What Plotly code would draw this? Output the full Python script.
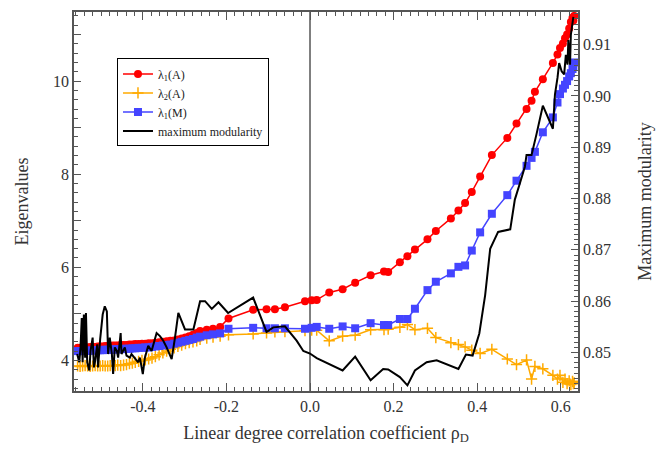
import plotly.graph_objects as go

# Degree correlation coefficient of each network (shared by the eigenvalue series)
rho = [
    -0.556, -0.550, -0.544, -0.538, -0.532, -0.526, -0.520, -0.514, -0.508, -0.502,
    -0.496, -0.490, -0.484, -0.478, -0.472, -0.466, -0.460, -0.453, -0.446, -0.439,
    -0.432, -0.425, -0.418, -0.410, -0.402, -0.394, -0.386, -0.378, -0.370, -0.361,
    -0.352, -0.343, -0.334, -0.325, -0.316, -0.307, -0.298, -0.289, -0.280, -0.271,
    -0.263, -0.247, -0.232, -0.215, -0.195, -0.136, -0.104, -0.084, -0.060, -0.012,
    0.004, 0.016, 0.046, 0.078, 0.108, 0.145, 0.177, 0.187, 0.215, 0.233,
    0.251, 0.281, 0.301, 0.337, 0.355, 0.371, 0.387, 0.407, 0.435, 0.472,
    0.494, 0.518, 0.530, 0.538, 0.557, 0.581, 0.592, 0.598, 0.605, 0.610,
    0.615, 0.620, 0.624, 0.628, 0.630, 0.632,
]

# Largest eigenvalue of the adjacency matrix
lam1_A = [
    4.27, 4.27, 4.28, 4.28, 4.28, 4.29, 4.29, 4.29, 4.30, 4.30,
    4.30, 4.31, 4.31, 4.31, 4.32, 4.32, 4.32, 4.33, 4.33, 4.33,
    4.34, 4.34, 4.35, 4.35, 4.36, 4.36, 4.37, 4.37, 4.38, 4.39,
    4.40, 4.41, 4.42, 4.43, 4.45, 4.47, 4.49, 4.52, 4.55, 4.59,
    4.63, 4.66, 4.68, 4.72, 4.90, 5.09, 5.10, 5.10, 5.14, 5.27,
    5.29, 5.30, 5.46, 5.53, 5.67, 5.83, 5.91, 5.90, 6.11, 6.24,
    6.38, 6.60, 6.78, 7.05, 7.22, 7.38, 7.62, 7.95, 8.41, 8.78,
    9.09, 9.40, 9.58, 9.77, 10.04, 10.39, 10.57, 10.71, 10.81, 10.92,
    11.00, 11.13, 11.27, 11.36, 11.30, 11.40,
]

# Second largest eigenvalue of the adjacency matrix
lam2_A = [
    3.88, 3.87, 3.88, 3.89, 3.88, 3.87, 3.88, 3.89, 3.88, 3.88,
    3.89, 3.88, 3.88, 3.89, 3.88, 3.89, 3.90, 3.89, 3.90, 3.91,
    3.93, 3.94, 3.96, 3.98, 4.00, 4.01, 4.03, 4.05, 4.08, 4.12,
    4.16, 4.20, 4.24, 4.27, 4.30, 4.33, 4.36, 4.38, 4.40, 4.42,
    4.45, 4.48, 4.50, 4.52, 4.55, 4.57, 4.59, 4.61, 4.62, 4.64,
    4.65, 4.65, 4.42, 4.52, 4.54, 4.66, 4.66, 4.67, 4.71, 4.77,
    4.66, 4.69, 4.49, 4.38, 4.34, 4.29, 4.22, 4.15, 4.24, 4.03,
    3.91, 4.01, 3.60, 3.87, 3.82, 3.68, 3.60, 3.68, 3.53, 3.60,
    3.50, 3.56, 3.48, 3.55, 3.50, 3.52,
]

# Largest eigenvalue of the modularity matrix
lam1_M = [
    4.20, 4.20, 4.20, 4.21, 4.21, 4.21, 4.21, 4.22, 4.22, 4.22,
    4.22, 4.23, 4.23, 4.23, 4.23, 4.24, 4.24, 4.24, 4.25, 4.25,
    4.25, 4.26, 4.26, 4.27, 4.27, 4.28, 4.28, 4.29, 4.30, 4.31,
    4.32, 4.33, 4.34, 4.36, 4.38, 4.40, 4.42, 4.44, 4.46, 4.49,
    4.51, 4.54, 4.56, 4.58, 4.68, 4.70, 4.69, 4.69, 4.69, 4.68,
    4.70, 4.72, 4.68, 4.73, 4.69, 4.80, 4.76, 4.76, 4.89, 4.89,
    5.11, 5.51, 5.69, 5.87, 6.01, 6.04, 6.36, 6.75, 7.15, 7.55,
    7.86, 8.18, 8.35, 8.48, 8.90, 9.22, 9.54, 9.72, 9.84, 9.92,
    10.00, 10.10, 10.17, 10.26, 10.32, 10.40,
]

# Maximum modularity (right axis)
rho_q = [
    -0.557, -0.552, -0.549, -0.546, -0.544, -0.541, -0.538, -0.536, -0.533, -0.528,
    -0.525, -0.520, -0.517, -0.514, -0.509, -0.507, -0.502, -0.496, -0.491, -0.486,
    -0.483, -0.479, -0.474, -0.471, -0.467, -0.462, -0.459, -0.453, -0.451, -0.443,
    -0.439, -0.431, -0.427, -0.419, -0.411, -0.407, -0.400, -0.395, -0.387, -0.379,
    -0.375, -0.367, -0.359, -0.351, -0.343, -0.331, -0.323, -0.315, -0.299, -0.279,
    -0.263, -0.251, -0.235, -0.219, -0.196, -0.136, -0.104, -0.088, -0.060, -0.032,
    -0.016, 0.000, 0.016, 0.048, 0.078, 0.108, 0.145, 0.175, 0.187, 0.215,
    0.233, 0.251, 0.279, 0.303, 0.355, 0.373, 0.389, 0.405, 0.419, 0.431,
    0.450, 0.479, 0.490, 0.501, 0.514, 0.518, 0.530, 0.542, 0.557, 0.581,
    0.586, 0.592, 0.596, 0.602, 0.608, 0.612, 0.616, 0.618, 0.622, 0.624,
    0.627, 0.630,
]
q_max = [
    0.8497, 0.8481, 0.8510, 0.8567, 0.8481, 0.8574, 0.8490, 0.8577, 0.8481, 0.8465,
    0.8503, 0.8529, 0.8471, 0.8484, 0.8516, 0.8471, 0.8526, 0.8574, 0.8590, 0.8580,
    0.8497, 0.8529, 0.8497, 0.8458, 0.8510, 0.8503, 0.8490, 0.8538, 0.8497, 0.8510,
    0.8494, 0.8490, 0.8497, 0.8490, 0.8481, 0.8490, 0.8458, 0.8490, 0.8513, 0.8503,
    0.8516, 0.8538, 0.8532, 0.8523, 0.8510, 0.8487, 0.8529, 0.8577, 0.8545, 0.8545,
    0.8600, 0.8600, 0.8585, 0.8598, 0.8577, 0.8607, 0.8540, 0.8549, 0.8551, 0.8523,
    0.8503, 0.8498, 0.8489, 0.8476, 0.8465, 0.8492, 0.8446, 0.8468, 0.8467, 0.8452,
    0.8436, 0.8465, 0.8481, 0.8485, 0.8468, 0.8496, 0.8494, 0.8537, 0.8612, 0.8702,
    0.8735, 0.8740, 0.8798, 0.8827, 0.8862, 0.8885, 0.8885, 0.8926, 0.8981, 0.8936,
    0.9003, 0.9035, 0.9064, 0.9048, 0.9042, 0.9080, 0.9061, 0.9109, 0.9061, 0.9119,
    0.9144, 0.9154,
]

x_tick_vals = [-0.4, -0.2, 0.0, 0.2, 0.4, 0.6]
x_tick_text = ["-0.4", "-0.2", "0.0", "0.2", "0.4", "0.6"]
y_tick_vals = [4, 5, 6, 7, 8, 9, 10, 11]
y_tick_text = ["4", "", "6", "", "8", "", "10", ""]
y2_tick_vals = [0.85, 0.86, 0.87, 0.88, 0.89, 0.90, 0.91]
y2_tick_text = ["0.85", "0.86", "0.87", "0.88", "0.89", "0.90", "0.91"]

AXIS = "#555555"
TEXT = "#333333"

fig = go.Figure()
fig.add_trace(go.Scatter(
    x=rho, y=lam1_A, mode="lines+markers", name="λ<sub>1</sub>(A)",
    line=dict(color="#ff0000", width=1.5),
    marker=dict(symbol="circle", size=8, color="#ff0000"),
))
fig.add_trace(go.Scatter(
    x=rho, y=lam2_A, mode="lines+markers", name="λ<sub>2</sub>(A)",
    line=dict(color="#ffaa00", width=1.5),
    marker=dict(symbol="cross-thin", size=8, line=dict(color="#ffaa00", width=1.5)),
))
fig.add_trace(go.Scatter(
    x=rho, y=lam1_M, mode="lines+markers", name="λ<sub>1</sub>(M)",
    line=dict(color="#4444ff", width=1.5),
    marker=dict(symbol="square", size=8, color="#4444ff"),
))
fig.add_trace(go.Scatter(
    x=rho_q, y=q_max, mode="lines", name="maximum modularity", yaxis="y2",
    line=dict(color="black", width=2),
))

# Vertical reference line at zero correlation
fig.add_shape(type="line", xref="x", yref="paper", x0=0, x1=0, y0=0, y1=1,
              line=dict(color="black", width=1), layer="below")

fig.update_layout(
    width=668, height=450,
    margin=dict(l=74, r=90, t=10, b=56),
    paper_bgcolor="white", plot_bgcolor="white",
    font=dict(family="Liberation Serif", size=16, color=TEXT),
    legend=dict(
        x=0.0853, y=0.8776, xanchor="left", yanchor="top",
        bordercolor="black", borderwidth=1, bgcolor="white",
        font=dict(size=12, color="#222222"), itemwidth=30, tracegroupgap=0,
    ),
    xaxis=dict(
        range=[-0.5646, 0.6411], showgrid=False, zeroline=False,
        showline=True, linecolor=AXIS, linewidth=1.5, mirror="ticks",
        ticks="inside", ticklen=8, tickwidth=1, tickcolor=AXIS,
        tickmode="array", tickvals=x_tick_vals, ticktext=x_tick_text,
        minor=dict(tickmode="linear", tick0=0, dtick=0.02, ticks="inside",
                   ticklen=4, tickwidth=1, tickcolor=AXIS),
        title=dict(text="Linear degree correlation coefficient ρ<sub>D</sub>",
                   font=dict(size=18), standoff=12),
    ),
    yaxis=dict(
        range=[3.343, 11.484], showgrid=False, zeroline=False,
        showline=True, linecolor=AXIS, linewidth=1.5,
        ticks="inside", ticklen=7, tickwidth=1, tickcolor=AXIS,
        tickmode="array", tickvals=y_tick_vals, ticktext=y_tick_text,
        minor=dict(tickmode="linear", tick0=0, dtick=0.2, ticks="inside",
                   ticklen=4, tickwidth=1, tickcolor=AXIS),
        title=dict(text="Eigenvalues", font=dict(size=18), standoff=20),
    ),
    yaxis2=dict(
        overlaying="y", side="right",
        range=[0.8425, 0.91635], showgrid=False, zeroline=False,
        showline=True, linecolor=AXIS, linewidth=1.5,
        ticks="inside", ticklen=7, tickwidth=1, tickcolor=AXIS,
        tickmode="array", tickvals=y2_tick_vals, ticktext=y2_tick_text,
        minor=dict(tickmode="linear", tick0=0, dtick=0.001, ticks="inside",
                   ticklen=4, tickwidth=1, tickcolor=AXIS),
        title=dict(text="Maximum modularity", font=dict(size=18), standoff=28),
    ),
)

fig.write_html("out.html")
